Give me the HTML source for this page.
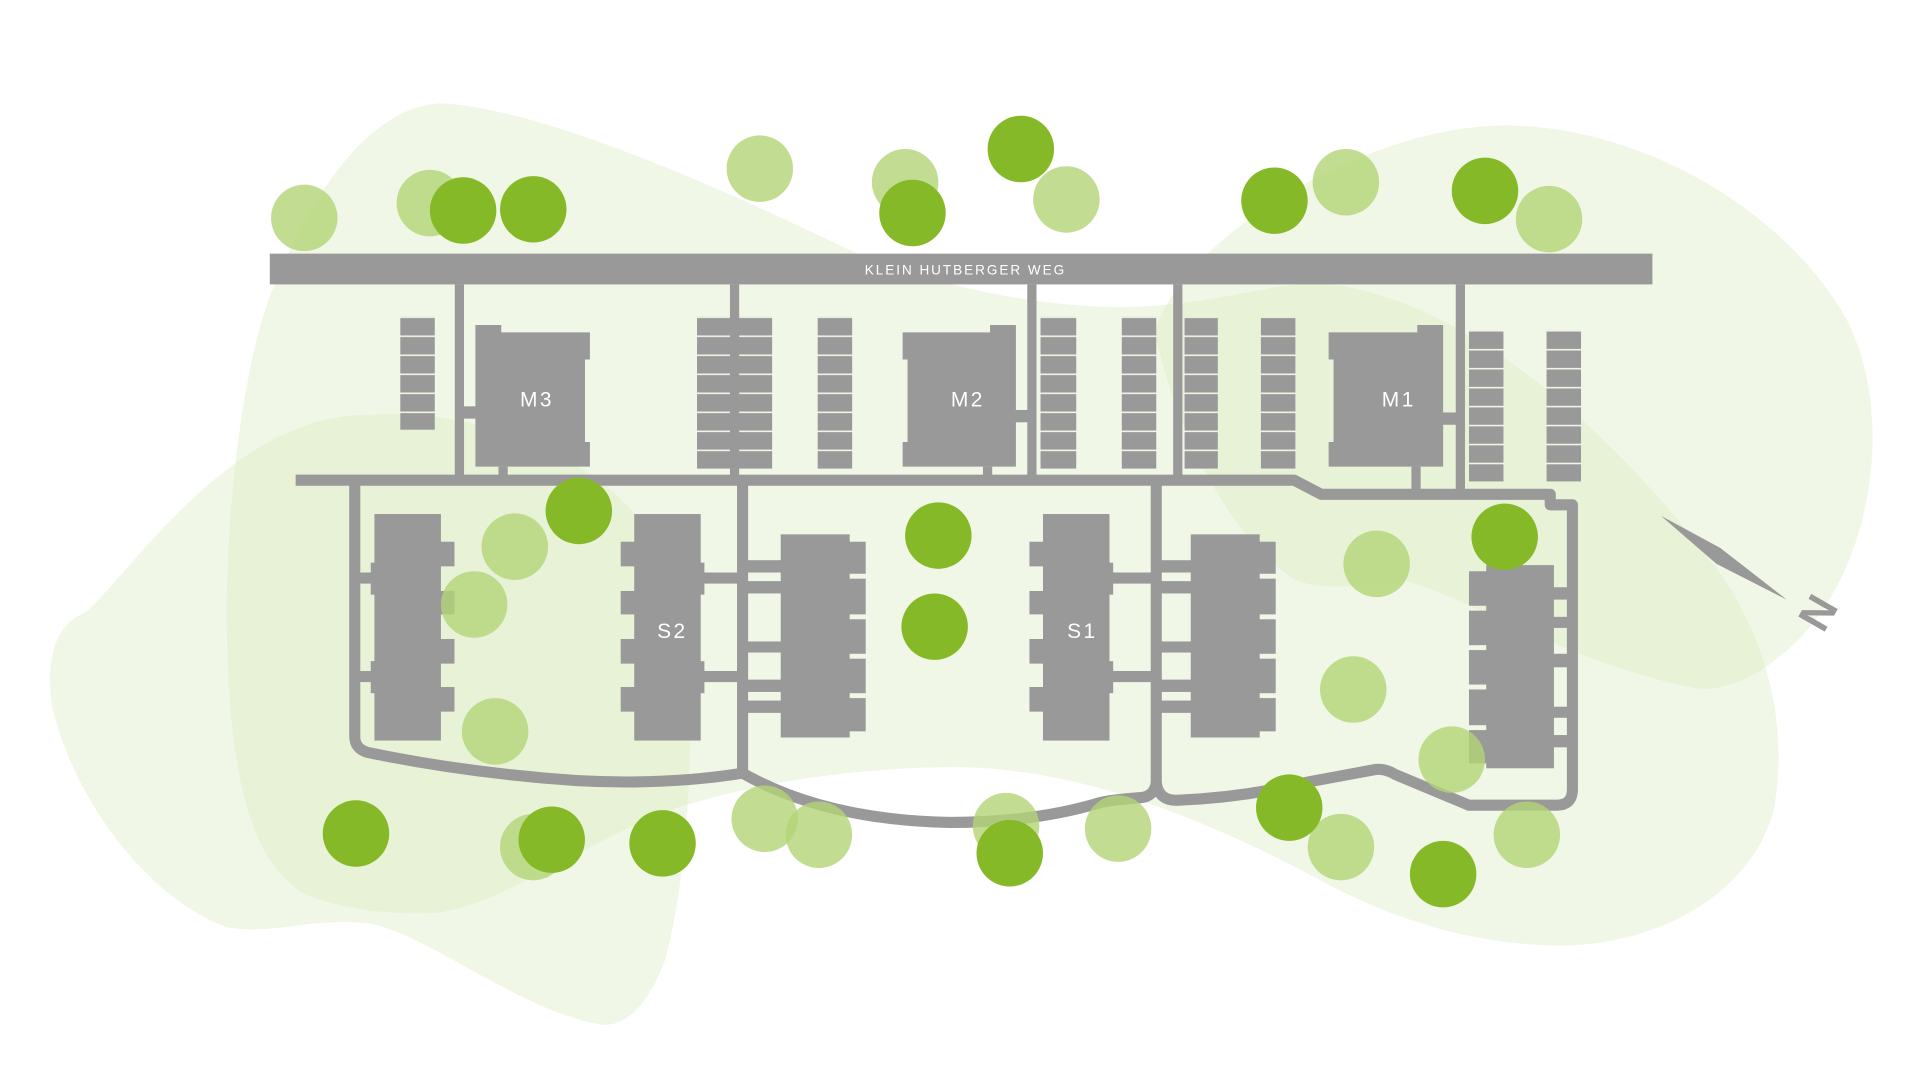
<!DOCTYPE html>
<html><head><meta charset="utf-8"><style>
html,body{margin:0;padding:0;background:#fff;}
svg{display:block;}
</style></head><body>
<svg width="1921" height="1081" viewBox="0 0 1560 878" xmlns="http://www.w3.org/2000/svg">
<defs>
<pattern id="p1" patternUnits="userSpaceOnUse" x="0" y="257" width="20" height="15.45"><rect width="20" height="15.45" fill="#999"/><rect width="20" height="1.3" fill="#eef5e6"/></pattern>
<pattern id="p2" patternUnits="userSpaceOnUse" x="0" y="268" width="20" height="15.4"><rect width="20" height="15.4" fill="#999"/><rect width="20" height="1.3" fill="#eef5e6"/></pattern>
</defs>
<rect width="1560" height="878" fill="#fff"/>
<!-- blobs -->
<g fill="#dcedc4" fill-opacity="0.42">
<path d="M360 84 C450 90 600 160 696 206 C760 232 850 252 924 249 C1000 246 1040 225 1088 232 C1200 250 1320 360 1400 470 C1440 530 1452 600 1440 660 C1420 730 1340 770 1259 768 C1180 765 1120 740 1078 718 C980 665 880 625 780 623 C680 623 600 640 547 657 C460 690 400 742 343 742 C300 742 270 735 249 727 C200 700 185 620 184 500 C184 400 200 280 224 229 C260 140 310 84 360 84 Z"/>
<path d="M298 337 C400 330 520 380 552 480 C566 560 562 700 540 780 C525 820 505 835 487 832 C420 820 350 760 300 750 C250 745 220 760 184 753 C120 730 60 650 42 573 C36 525 50 505 70 497 C110 460 190 337 298 337 Z"/>
<path d="M1217 102 C1330 100 1450 170 1500 260 C1540 340 1520 460 1460 520 C1430 550 1400 562 1377 559 C1280 540 1200 490 1143 472 C1100 475 1073 481 1050 470 C990 430 950 330 938 270 C955 200 1100 105 1217 102 Z"/>
</g>
<!-- road -->
<rect x="219" y="206" width="1123" height="25" fill="#999"/>
<text x="784" y="223" text-anchor="middle" font-family="Liberation Sans, sans-serif" font-size="11" letter-spacing="1.6" fill="#fff">KLEIN HUTBERGER WEG</text>
<!-- parking -->
<g>
<rect x="325" y="257" width="28" height="92" fill="url(#p1)"/>
<rect x="566" y="257" width="61" height="124" fill="url(#p1)"/>
<rect x="664" y="257" width="28" height="124" fill="url(#p1)"/>
<rect x="845" y="257" width="29" height="124" fill="url(#p1)"/>
<rect x="911" y="257" width="28" height="124" fill="url(#p1)"/>
<rect x="962" y="257" width="27" height="124" fill="url(#p1)"/>
<rect x="1024" y="257" width="28" height="124" fill="url(#p1)"/>
<rect x="1193" y="268" width="28" height="123" fill="url(#p2)"/>
<rect x="1256" y="268" width="28" height="123" fill="url(#p2)"/>
</g>
<!-- paths -->
<g stroke="#999" fill="none" stroke-linejoin="round">
<g stroke-width="7.5">
<path d="M373 231 V390 M596.5 231 V390 M838 231 V390 M956.5 231 V390 M1186 231 V401"/>
<path d="M408.5 379 V390 M802 379 V390 M1150 379 V401"/>
</g>
<g stroke-width="9">
<path d="M240 390 H1051 L1073 401.5 H1259 V410 H1277 V641 Q1277 654 1264 654 H1193 L1133 629 Q1125 624 1117 625 L1063 635 Q1010 648 955 650 Q941 650 939 636"/>
<path d="M939 390 V636 Q937 648 924 648 Q900 650 893 652 Q840 668 771 668 Q670 666 603 628"/>
<path d="M603 390 V628 Q540 638 468 634 Q380 628 298 611 Q288 608 288 598 V390"/>
</g>
</g>
<g fill="#999">
<path d="M386 264 H407 V270 H479 V292 H475 V359 H479 V379 H386 Z"/>
<rect x="375" y="330" width="12" height="10"/>
<path d="M733 270 H804 V264 H825 V379 H733 V359 H737 V292 H733 Z"/>
<rect x="824" y="333" width="12" height="10"/>
<path d="M1079 270 H1151 V264 H1172 V379 H1079 V359 H1083 V292 H1079 Z"/>
<rect x="1171" y="335" width="13" height="10"/>
<rect x="304" y="417.5" width="54" height="184"/>
<rect x="357" y="440" width="12" height="20"/><rect x="357" y="480" width="12" height="19"/><rect x="357" y="519" width="12" height="20"/><rect x="357" y="558" width="12" height="20"/>
<rect x="301" y="457" width="4" height="26"/><rect x="301" y="537" width="4" height="26"/>
<rect x="291" y="465" width="12" height="9"/><rect x="291" y="545" width="12" height="9"/>
<rect x="515" y="417.5" width="54" height="184"/>
<rect x="504" y="440" width="12" height="20"/><rect x="504" y="480" width="12" height="19"/><rect x="504" y="519" width="12" height="20"/><rect x="504" y="558" width="12" height="20"/>
<rect x="568" y="457" width="4" height="26"/><rect x="568" y="537" width="4" height="26"/>
<rect x="570" y="465" width="30" height="9"/><rect x="570" y="545" width="30" height="9"/>
<rect x="634" y="434" width="56" height="165"/>
<rect x="689" y="440" width="14" height="26"/><rect x="689" y="470" width="14" height="29"/><rect x="689" y="503" width="14" height="28"/><rect x="689" y="535" width="14" height="28"/><rect x="689" y="567" width="14" height="27"/>
<rect x="606" y="455" width="29" height="10"/><rect x="606" y="472" width="29" height="10"/><rect x="606" y="521" width="29" height="9"/><rect x="606" y="552" width="29" height="10"/><rect x="606" y="569" width="29" height="10"/>
<rect x="847" y="417.5" width="54" height="184"/>
<rect x="836" y="440" width="12" height="20"/><rect x="836" y="480" width="12" height="19"/><rect x="836" y="519" width="12" height="20"/><rect x="836" y="558" width="12" height="20"/>
<rect x="900" y="457" width="4" height="26"/><rect x="900" y="537" width="4" height="26"/>
<rect x="902" y="465" width="36" height="9"/><rect x="902" y="545" width="36" height="9"/>
<rect x="967" y="434" width="56" height="165"/>
<rect x="1022" y="440" width="14" height="26"/><rect x="1022" y="470" width="14" height="29"/><rect x="1022" y="503" width="14" height="28"/><rect x="1022" y="535" width="14" height="28"/><rect x="1022" y="567" width="14" height="27"/>
<rect x="941" y="455" width="27" height="10"/><rect x="941" y="472" width="27" height="10"/><rect x="941" y="521" width="27" height="9"/><rect x="941" y="552" width="27" height="10"/><rect x="941" y="569" width="27" height="10"/>
<rect x="1207" y="459" width="55" height="165"/>
<rect x="1193" y="464" width="15" height="28"/><rect x="1193" y="496" width="15" height="28"/><rect x="1193" y="528" width="15" height="28"/><rect x="1193" y="560" width="15" height="29"/><rect x="1193" y="593" width="15" height="27"/>
<rect x="1261" y="477" width="14" height="10"/><rect x="1261" y="501" width="14" height="9"/><rect x="1261" y="531" width="14" height="11"/><rect x="1261" y="574" width="14" height="9"/><rect x="1261" y="597" width="14" height="10"/>
<polygon points="1349,419 1397,445 1451,487 1394,458"/>
</g>
<text transform="translate(1477,498) rotate(-60)" text-anchor="middle" dominant-baseline="central" font-family="Liberation Sans, sans-serif" font-size="36" font-weight="bold" fill="#999">N</text>
<g font-family="Liberation Sans, sans-serif" font-size="17" fill="#fff" text-anchor="middle" letter-spacing="2">
<text x="436" y="330">M3</text><text x="786" y="330">M2</text><text x="1136" y="330">M1</text>
<text x="546" y="518">S2</text><text x="879" y="518">S1</text>
</g>
<g fill="#b3d577" fill-opacity="0.8">
<circle cx="247" cy="177" r="27"/><circle cx="349" cy="165" r="27"/><circle cx="617" cy="137" r="27"/><circle cx="735" cy="148" r="27"/><circle cx="866" cy="162" r="27"/><circle cx="1093" cy="148" r="27"/><circle cx="1258" cy="178" r="27"/>
<circle cx="418" cy="444" r="27"/><circle cx="385" cy="491" r="27"/><circle cx="402" cy="594" r="27"/><circle cx="433" cy="688" r="27"/><circle cx="621" cy="665" r="27"/><circle cx="665" cy="678" r="27"/><circle cx="817" cy="671" r="27"/><circle cx="908" cy="673" r="27"/>
<circle cx="1118" cy="458" r="27"/><circle cx="1099" cy="560" r="27"/><circle cx="1179" cy="617" r="27"/><circle cx="1089" cy="688" r="27"/><circle cx="1240" cy="678" r="27"/>
</g>
<g fill="#86b927">
<circle cx="376" cy="171" r="27"/><circle cx="433" cy="170" r="27"/><circle cx="829" cy="121" r="27"/><circle cx="741" cy="173" r="27"/><circle cx="1035" cy="163" r="27"/><circle cx="1206" cy="155" r="27"/>
<circle cx="470" cy="415" r="27"/><circle cx="762" cy="435" r="27"/><circle cx="759" cy="509" r="27"/><circle cx="1222" cy="436" r="27"/>
<circle cx="289" cy="677" r="27"/><circle cx="448" cy="682" r="27"/><circle cx="538" cy="685" r="27"/><circle cx="820" cy="693" r="27"/><circle cx="1047" cy="656" r="27"/><circle cx="1172" cy="710" r="27"/>
</g>
</svg>
</body></html>
